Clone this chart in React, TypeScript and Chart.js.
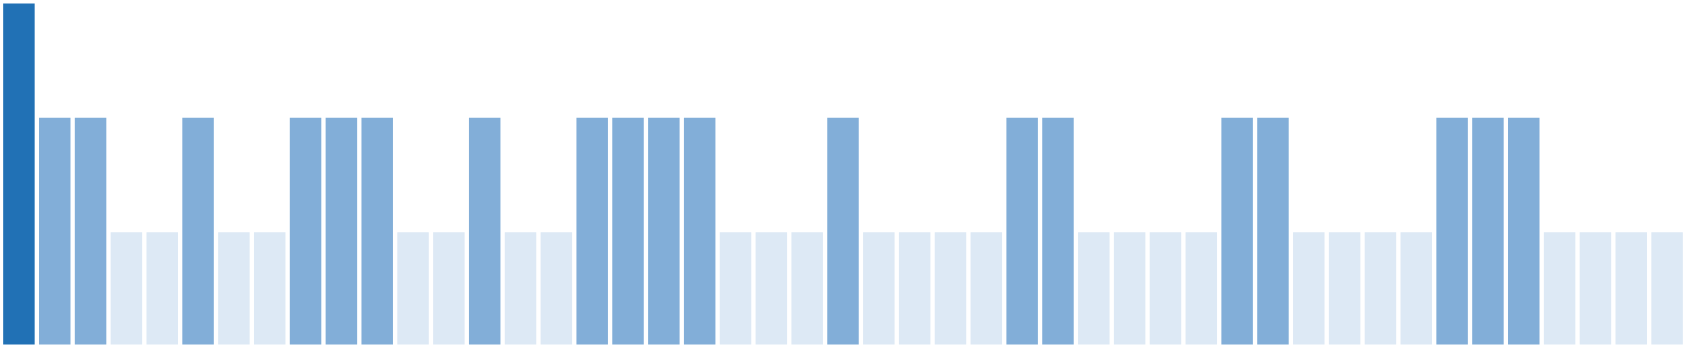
import React, { useEffect, useRef } from "react";
import { Chart, registerables } from "chart.js";

Chart.register(...registerables);

const categories: string[] = Array.from({ length: 47 }, (_, i) => `C${i + 1}`);
const values: number[] = [
  3, 2, 2, 1, 1, 2, 1, 1, 2, 2, 2, 1, 1, 2, 1, 1, 2, 2, 2, 2, 1, 1, 1, 2,
  1, 1, 1, 1, 2, 2, 1, 1, 1, 1, 2, 2, 1, 1, 1, 1, 2, 2, 2, 1, 1, 1, 1,
];
const levelColors: Record<number, string> = {
  3: "#2171b5",
  2: "#82aed8",
  1: "#dde9f5",
};

export default function App() {
  const ref = useRef<HTMLCanvasElement | null>(null);
  useEffect(() => {
    document.body.style.margin = "0";
    const ctx = ref.current!;
    const chart = new Chart(ctx, {
      type: "bar",
      data: {
        labels: categories,
        datasets: [
          {
            data: values,
            backgroundColor: values.map((v) => levelColors[v]),
            borderColor: "rgba(255,255,255,0.35)",
            borderWidth: 1,
            borderSkipped: false,
            barPercentage: 0.935,
            categoryPercentage: 1,
          },
        ],
      },
      options: {
        responsive: false,
        animation: false,
        layout: { padding: { left: 1, right: 1, top: 2.5, bottom: 2.5 } },
        plugins: { legend: { display: false }, tooltip: { enabled: false } },
        scales: {
          x: { display: false, grid: { display: false } },
          y: { display: false, min: 0, max: 3, grid: { display: false } },
        },
      },
    });
    return () => chart.destroy();
  }, []);
  return (
    <div style={{ width: 1686, height: 348 }}>
      <canvas ref={ref} width={1686} height={348} style={{ display: "block" }} />
    </div>
  );
}
